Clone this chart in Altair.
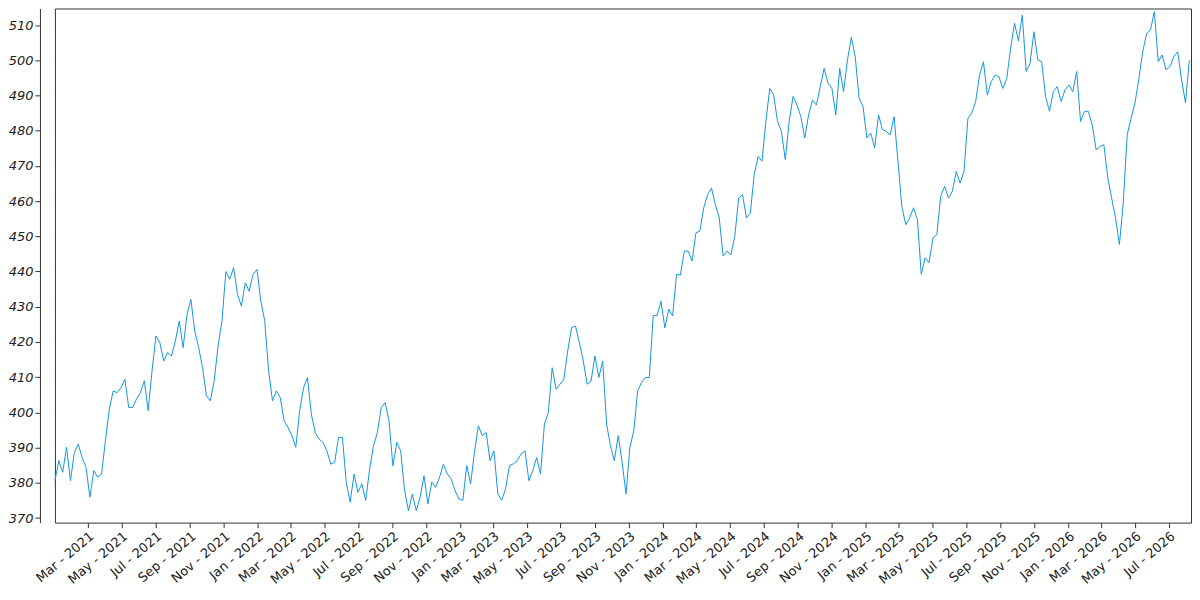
import altair as alt
import pandas as pd

# weekly readings of the series, starting 2021-01-01
start_date = "2021-01-01"
values = [
    380.6, 386.3, 383.0, 390.1, 380.6, 388.6, 391.0, 387.2, 384.4, 375.9,
    383.5, 381.6, 382.5, 392.0, 400.9, 406.1, 405.6, 407.0, 409.4, 401.4,
    401.4, 403.8, 405.6, 409.0, 400.5, 411.8, 421.7, 419.8, 414.6, 417.0,
    416.0, 420.3, 425.9, 418.4, 427.8, 432.1, 423.1, 418.4, 412.7, 404.7,
    403.3, 409.0, 418.9, 426.0, 440.0, 437.8, 441.1, 433.5, 430.2, 436.8,
    434.4, 439.2, 440.6, 431.6, 426.0, 411.8, 403.3, 406.1, 404.2, 397.6,
    395.7, 393.4, 390.1, 400.5, 407.0, 409.9, 399.5, 394.3, 392.4, 391.5,
    389.1, 385.3, 385.8, 392.9, 392.9, 380.0, 374.5, 382.5, 377.3, 379.7,
    375.0, 383.9, 390.5, 394.3, 401.4, 402.8, 397.6, 384.8, 391.5, 389.1,
    377.8, 372.1, 376.8, 372.1, 375.9, 382.0, 374.0, 380.2, 378.7, 381.6,
    385.3, 382.5, 381.1, 377.8, 375.4, 375.0, 384.9, 379.7, 388.7, 396.2,
    393.4, 394.3, 386.3, 389.1, 376.9, 375.0, 378.3, 384.9, 385.4, 386.3,
    388.2, 389.1, 380.6, 383.5, 387.2, 382.5, 396.7, 400.0, 412.7, 406.6,
    408.0, 409.4, 417.5, 424.1, 424.5, 419.8, 414.6, 408.0, 408.9, 416.0,
    409.9, 414.6, 396.7, 390.5, 386.3, 393.4, 385.8, 376.8, 390.1, 394.8,
    406.1, 408.5, 409.9, 409.9, 427.5, 427.5, 431.6, 424.0, 429.3, 427.4,
    439.2, 439.0, 445.8, 445.8, 443.0, 451.0, 451.5, 458.1, 461.8, 463.7,
    459.0, 455.2, 444.4, 445.8, 444.8, 450.0, 460.9, 461.8, 455.2, 456.6,
    467.5, 472.7, 471.3, 482.6, 492.0, 490.1, 482.6, 479.8, 471.8, 482.6,
    489.7, 487.3, 484.0, 477.9, 484.5, 488.7, 487.3, 492.5, 497.7, 493.5,
    492.0, 484.5, 497.7, 491.1, 500.1, 506.5, 501.0, 489.2, 486.9, 477.9,
    479.3, 475.1, 484.5, 480.3, 479.8, 478.8, 484.0, 471.3, 458.5, 453.3,
    455.2, 458.1, 454.8, 439.2, 443.9, 442.5, 449.5, 450.5, 461.4, 464.2,
    460.9, 462.8, 468.4, 465.1, 468.4, 483.5, 485.0, 488.3, 495.8, 499.6,
    490.1, 493.9, 495.8, 495.3, 492.0, 494.8, 503.4, 510.5, 505.5, 512.8,
    496.8, 499.1, 508.1, 500.1, 499.6, 489.7, 485.5, 491.1, 492.5, 488.3,
    491.6, 493.0, 491.1, 496.8, 482.6, 485.5, 485.5, 481.7, 474.6, 475.5,
    476.0, 466.6, 460.9, 455.2, 447.7, 459.5, 478.8, 483.5, 487.8, 494.8,
    502.4, 507.6, 508.6, 513.8, 499.6, 501.5, 497.3, 498.2, 501.0, 502.4,
    494.4, 488.0, 500.0,
]

# x tick positions (every second month) and y tick values
tick_months = [(y, m) for y in range(2021, 2027) for m in (1, 3, 5, 7, 9, 11)
               if (y, m) >= (2021, 3) and (y, m) <= (2026, 7)]
y_ticks = [370, 380, 390, 400, 410, 420, 430, 440, 450, 460, 470, 480, 490, 500, 510]
y_domain = [368.7, 514.7]

dates = pd.date_range(start_date, periods=len(values), freq="7D")
df = pd.DataFrame({"date": dates.strftime("%Y-%m-%dT00:00:00"), "value": values})

x_axis = alt.Axis(
    title=None,
    values=[alt.DateTime(year=y, month=m, date=1) for y, m in tick_months],
    format="%b - %Y",
    labelAngle=-40,
    labelAlign="right",
    labelBaseline="top",
    labelFont="DejaVu Sans",
    labelFontSize=13,
    labelColor="#222222",
    labelOverlap=False,
    labelPadding=2,
    tickSize=5,
    tickColor="#333333",
    domain=False,
    grid=False,
)

y_axis = alt.Axis(
    title=None,
    values=y_ticks,
    labelFont="DejaVu Sans",
    labelFontStyle="italic",
    labelFontSize=13,
    labelColor="#222222",
    labelPadding=2,
    tickSize=5,
    tickColor="#333333",
    domainColor="#333333",
    offset=15,
    grid=False,
)

chart = (
    alt.Chart(df)
    .mark_line(color="#1396e4", strokeWidth=1)
    .encode(
        x=alt.X(
            "date:T",
            scale=alt.Scale(domain=[alt.DateTime(year=2021, month=1, date=1),
                                    alt.DateTime(year=2026, month=8, date=10)]),
            axis=x_axis,
        ),
        y=alt.Y("value:Q", scale=alt.Scale(domain=y_domain, nice=False, zero=False), axis=y_axis),
    )
    .properties(width=1138, height=515, padding={"left": 0, "top": 0, "right": 0, "bottom": 0})
    .configure_view(stroke="#333333", strokeWidth=1)
)

chart.save("out.html", embed_options={"renderer": "svg", "actions": False})
